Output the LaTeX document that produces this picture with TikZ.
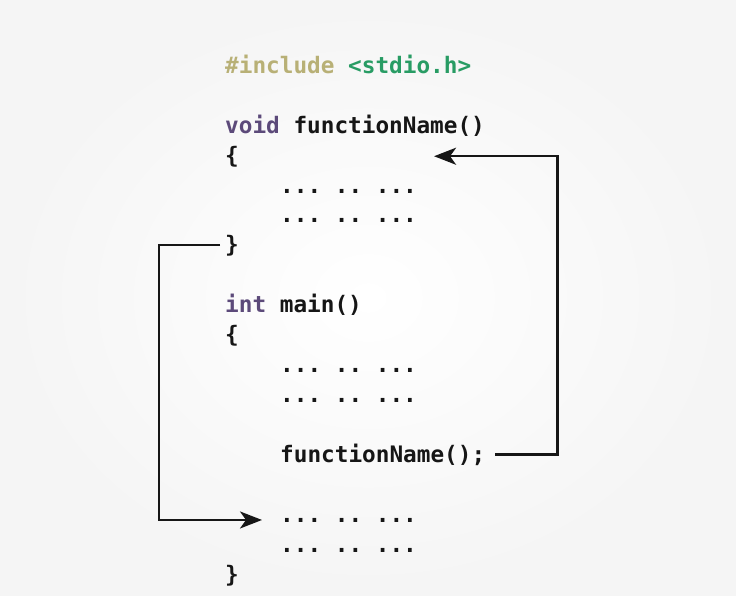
\documentclass[tikz,border=0pt]{standalone}
\usepackage{fontspec}
\usepackage{xcolor}
\usetikzlibrary{arrows.meta}
\setmonofont{DejaVu Sans Mono}

\definecolor{inclcolor}{RGB}{184,176,118}
\definecolor{hdrcolor}{RGB}{40,156,100}
\definecolor{kwcolor}{RGB}{92,74,122}
\definecolor{inkcolor}{RGB}{22,22,22}

\begin{document}
\begin{tikzpicture}[x=1pt, y=-1pt,
    code/.style={anchor=base west, inner sep=0pt, text=inkcolor,
                 font=\ttfamily\bfseries\fontsize{22.7}{27}\selectfont},
    flow/.style={draw=inkcolor, line width=2.4pt,
                 -{Stealth[length=22pt, width=17pt, inset=6pt]}}]
                % Background
                \useasboundingbox (0,0) rectangle (736,595);
                \shade[inner color=white, outer color=black!4] (0,0) rectangle (736,595);

                % Nodes
                \node[code] (incl) at (225, 73) {\textcolor{inclcolor}{\#include} \textcolor{hdrcolor}{<stdio.h>}}; % Header
                \node[code] (fhead) at (225, 133) {\textcolor{kwcolor}{void} functionName()}; % Definition
                \node[code] (fopen) at (225, 163) {\{};
                \node[code] (fbody1) at (280, 193) {... .. ...};
                \node[code] (fbody2) at (280, 222) {... .. ...};
                \node[code] (fclose) at (225, 252) {\}};
                \node[code] (mhead) at (225, 312) {\textcolor{kwcolor}{int} main()}; % Main
                \node[code] (mopen) at (225, 342) {\{};
                \node[code] (mbody1) at (280, 372) {... .. ...};
                \node[code] (mbody2) at (280, 402) {... .. ...};
                \node[code] (call) at (280, 462) {functionName();}; % Call
                \node[code] (mbody3) at (280, 522) {... .. ...};
                \node[code] (mbody4) at (280, 552) {... .. ...};
                \node[code] (mclose) at (225, 582) {\}};

                % Edges for control flow
                \draw[flow] ([xshift=10pt]call.east) -- ++(62,0) |- ([xshift=195pt]fopen.east);
                \draw[flow] ([xshift=-5pt]fclose.west) -- ++(-61,0) |- ([xshift=-18pt]mbody3.west);
            \end{tikzpicture}
\end{document}
